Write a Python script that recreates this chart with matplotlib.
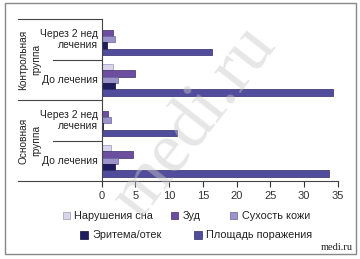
import numpy as np
import matplotlib
matplotlib.use("Agg")
import matplotlib.pyplot as plt
from matplotlib.patches import Rectangle

plt.rcParams['font.family'] = ['Liberation Sans', 'DejaVu Sans']

# данные (сверху вниз)
categories = ["Через 2 нед\nлечения", "До лечения", "Через 2 нед\nлечения", "До лечения"]
groups = ["Контрольная\nгруппа", "Основная\nгруппа"]
series = ["Нарушения сна", "Зуд", "Сухость кожи", "Эритема/отек", "Площадь поражения"]
sleep = [0.0, 1.6, 0.0, 1.4]
itch = [1.7, 4.9, 1.0, 4.6]
dryness = [1.9, 2.4, 1.4, 2.4]
erythema = [0.8, 1.9, 0.15, 2.0]
area = [16.3, 34.2, 11.2, 33.6]
xticks = [0, 5, 10, 15, 20, 25, 30, 35]

colors = ["#d9d6ec", "#6b4f9e", "#9b93c9", "#1f1c5f", "#524c9c"]
edges = ["#9a96b8", "#3f2d6a", "#6a64a0", "#0e0c35", "#2e2a6a"]

W, H = 360, 259
fig = plt.figure(figsize=(3.6, 2.59), dpi=100)

def fx(px):
    return px / W

def fy(py):
    return 1 - py / H

x0, x1 = 101.7, 338.0
top, bot = 19.0, 181.0
ax = fig.add_axes([fx(x0), fy(bot), fx(x1) - fx(x0), (bot - top) / H])

values = [sleep, itch, dryness, erythema, area]
pos = np.arange(len(categories))
bh = 0.16
for i, vals in enumerate(values):
    ax.barh(pos - 0.32 + i * bh, vals, height=bh, color=colors[i],
            edgecolor=edges[i], linewidth=0.5)

ax.set_xlim(0, 35)
ax.set_ylim(3.5, -0.5)
ax.set_xticks(xticks)
ax.tick_params(axis='x', direction='out', length=4, width=0.8, pad=3,
               labelsize=8, colors='#333333')
ax.tick_params(axis='y', length=0, labelleft=False)
for s in ['top', 'right']:
    ax.spines[s].set_visible(False)
for s in ['left', 'bottom']:
    ax.spines[s].set_color('#444444')
    ax.spines[s].set_linewidth(0.8)

# разделительные линии слева
tr = ax.get_yaxis_transform()
long_x = -(x0 - 18) / (x1 - x0)
short_x = -(x0 - 53) / (x1 - x0)
for yv in [-0.5, 1.5, 3.5]:
    ax.plot([long_x, 0], [yv, yv], transform=tr, color='#444444', lw=0.8, clip_on=False)
for yv in [0.5, 2.5]:
    ax.plot([short_x, 0], [yv, yv], transform=tr, color='#444444', lw=0.8, clip_on=False)

# подписи категорий
for p, c in zip(pos, categories):
    ax.text(-0.015, p, c, transform=tr, ha='right', va='center', fontsize=7.5,
            linespacing=1.15, color='#222222')
for g, yc in zip(groups, [1 - 0.5, 3 - 0.5]):
    ax.text(-0.305, yc, g, transform=tr, ha='center', va='center', rotation=90,
            fontsize=7.3, linespacing=1.35, color='#222222')

# легенда
leg_items = [(62.5, 215.7, 0), (170.7, 215.7, 1), (230, 215.7, 2),
             (80, 235, 3), (194, 235, 4)]
sq = 7.5
for lx, ly, i in leg_items:
    fig.patches.append(Rectangle((fx(lx), fy(ly + sq / 2)), sq / W, sq / H,
                                 transform=fig.transFigure, facecolor=colors[i],
                                 edgecolor=edges[i], linewidth=0.5))
    fig.text(fx(lx + 12), fy(ly), series[i], ha='left', va='center',
             fontsize=7.8, color='#222222')

# рамка и водяной знак
fig.patches.append(Rectangle((fx(5), fy(254)), (355.5 - 5) / W, (254 - 3) / H,
                             transform=fig.transFigure, fill=False,
                             edgecolor='#888888', linewidth=1))
fig.text(fx(195), fy(122), "medi.ru", fontsize=52, family='Liberation Serif',
         color='#c8c8c8', alpha=0.45, rotation=52, ha='center', va='center')
fig.text(fx(353), fy(247), "medi.ru", fontsize=7.5, family='Liberation Serif',
         ha='right', va='center', color='#222222')

fig.savefig("out.png", dpi=100)
